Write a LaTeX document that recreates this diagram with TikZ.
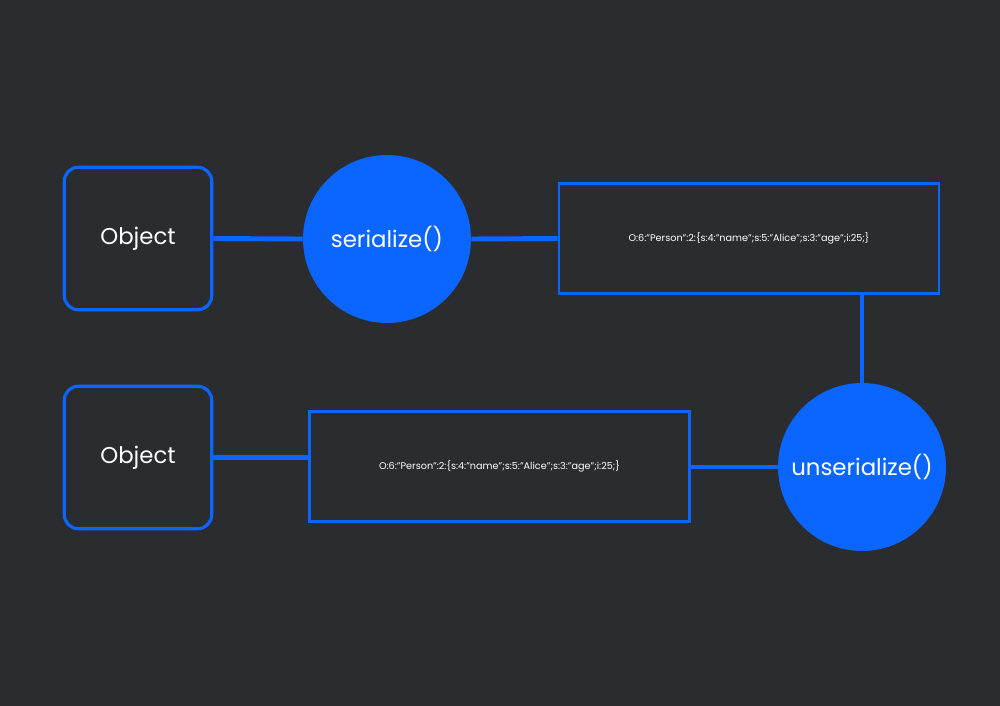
\documentclass[tikz,border=0pt]{standalone}
\usepackage{fontspec}
\setmainfont{Poppins}
\usetikzlibrary{positioning}
\definecolor{bgdark}{HTML}{2B2C30}
\definecolor{phpblue}{HTML}{0A66FF}
\tikzset{
  objbox/.style={draw=phpblue, line width=1.8pt, rounded corners=8pt, minimum width=2.95cm, minimum height=2.85cm, text=white, font=\fontsize{13}{15}\selectfont},
  strbox/.style={draw=phpblue, line width=1.6pt, minimum width=7.6cm, minimum height=2.2cm, text=white, font=\fontsize{5.5}{7}\selectfont},
  funcirc/.style={circle, fill=phpblue, minimum size=3.36cm, inner sep=0pt, text=white, font=\fontsize{13}{15}\selectfont},
  link/.style={phpblue, line width=2.8pt}
}
\begin{document}
\begin{tikzpicture}[x=0.02cm,y=-0.02cm]
  \fill[bgdark] (0,0) rectangle (1000,706);
  % first row
  \node[objbox] (obj1) at (138,238.5) {Object};
  \node[funcirc] (ser) at (387,239) {serialize()};
  \node[strbox] (str1) at (749,238.5) {O:6:"Person":2:\{s:4:"name";s:5:"Alice";s:3:"age";i:25;\}};
  % second row
  \node[objbox] (obj2) at (138,457.5) {Object};
  \node[strbox] (str2) at (499.5,466.5) {O:6:"Person":2:\{s:4:"name";s:5:"Alice";s:3:"age";i:25;\}};
  \node[funcirc] (unser) at (862,467) {unserialize()};
  % links
  \draw[link] (obj1.east) -- (ser.west);
  \draw[link] (ser.east) -- (str1.west);
  \draw[link] (str1.south -| unser.north) -- (unser.north);
  \draw[link] (unser.west) -- (unser.west -| str2.east);
  \draw[link] (obj2.east) -- (obj2.east -| str2.west);
\end{tikzpicture}
\end{document}
